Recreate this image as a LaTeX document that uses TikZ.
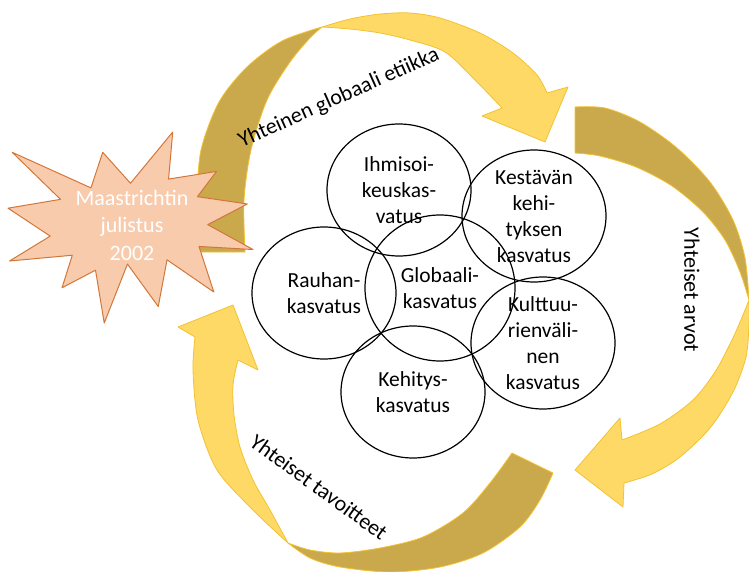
\documentclass[tikz,border=0pt]{standalone}
\usepackage{fontspec}
\setmainfont{Carlito}
\usepackage{tikz}
\usetikzlibrary{shapes.geometric}
\definecolor{bandlight}{HTML}{FFD966}
\definecolor{banddark}{HTML}{CAA84C}
\definecolor{bandline}{HTML}{F2C230}
\definecolor{burstfill}{HTML}{F8CBAD}
\definecolor{burstline}{HTML}{D2773A}
\tikzstyle{bubble} = [ellipse, draw=black, line width=1.2pt, minimum width=144pt, minimum height=132pt, inner sep=0pt]
\tikzstyle{bubbletext} = [align=center, font=\fontsize{21.5}{26}\selectfont]
\tikzstyle{bandfront} = [fill=bandlight, draw=bandline, line width=0.8pt, line join=round]
\tikzstyle{bandback} = [fill=banddark, draw=bandline, line width=0.8pt, line join=round]
\tikzstyle{burst} = [fill=burstfill, draw=burstline, line width=1pt, line join=round]
\tikzstyle{burstlabel} = [align=center, text=white, font=\fontsize{22}{27.5}\selectfont]
\tikzstyle{arclabel} = [font=\fontsize{22}{27}\selectfont]

\begin{document}
\begin{tikzpicture}[x=1pt, y=-1pt]
    \useasboundingbox (0,0) rectangle (749,572);

    \filldraw[bandback] plot[smooth] coordinates {(196,252) (197,200) (201,150) (219,102) (247,67) (282,41) (322,27)}
        -- plot[smooth] coordinates {(322,27) (310,38) (290,62) (267,100) (251,150) (244,200) (245,252)} -- cycle;
    \filldraw[bandfront] plot[smooth] coordinates {(322,27) (350,19) (380,14) (410,13) (440,18) (480,33) (513,53) (537,75) (547,93)}
        -- (568,87) -- (545,142) -- (482,116) -- (502,108)
        -- plot[smooth] coordinates {(502,108) (475,80) (445,52) (410,40) (380,33) (350,29) (322,27)} -- cycle;

    \filldraw[bandback] plot[smooth] coordinates {(575,107) (605,108) (640,122) (677,148) (710,182) (733,220) (745,258) (749,300)}
        -- plot[smooth] coordinates {(749,300) (740,272) (725,240) (703,212) (672,186) (636,167) (600,156) (575,153)} -- cycle;
    \filldraw[bandfront] plot[smooth] coordinates {(749,300) (749,323) (746,357) (733,392) (710,428) (680,457) (652,474) (624,483)}
        -- (623,507) -- (575,470) -- (620,418) -- (622,440)
        -- plot[smooth] coordinates {(622,440) (660,424) (693,400) (715,372) (732,340) (743,315) (749,300)} -- cycle;

    \filldraw[bandback] plot[smooth] coordinates {(553,473) (540,500) (520,527) (483,553) (440,567) (390,572) (340,567) (310,558) (288,543)}
        -- plot[smooth] coordinates {(288,543) (310,550) (340,553) (380,548) (423,537) (463,513) (490,483) (512,453)} -- cycle;
    \filldraw[bandfront] plot[smooth] coordinates {(288,543) (253,510) (217,470) (198,420) (193,370) (195,337)}
        -- (178,327) -- (233,305) -- (258,370) -- (238,360)
        -- plot[smooth] coordinates {(238,360) (233,385) (234,415) (240,447) (253,480) (270,510) (288,543)} -- cycle;

    \filldraw[burst, shift={(8,132)}, xscale=1.1343, yscale=0.8843]
        (108,58) -- (145.22,0) -- (141.55,53.25) -- (183.80,44.57) -- (167.02,73.15) -- (210.97,81.37)
        -- (176.07,104.75) -- (216,132.90) -- (168.37,129.42) -- (181.45,180.95) -- (140.20,144.57)
        -- (132.47,197.37) -- (105.32,149.35) -- (84.85,216) -- (77.15,156.27) -- (47.62,176.17)
        -- (56.67,139.37) -- (1.35,145.87) -- (37.22,117.75) -- (0,86.15) -- (46.27,76.17)
        -- (3.70,22.95) -- (73.12,63.20) -- (83.52,22.95) -- cycle;
    \node[burstlabel] (declaration) at (132,225) {Maastrichtin\\julistus\\2002};

    \node[bubble] (ihmisoikeus) at (399,190) {};
    \node[bubble] (kestava) at (534,216) {};
    \node[bubble, minimum width=150pt, minimum height=146pt] (globaali) at (440,288) {};
    \node[bubble] (rauha) at (324,293) {};
    \node[bubble] (kulttuuri) at (543,343) {};
    \node[bubble] (kehitys) at (413,392) {};

    \node[bubbletext] (ihmisoikeustxt) at (ihmisoikeus) {Ihmisoi-\\keuskas-\\vatus};
    \node[bubbletext] (kestavatxt) at (kestava) {Kestävän\\kehi-\\tyksen\\kasvatus};
    \node[bubbletext] (globaalitxt) at (globaali) {Globaali-\\kasvatus};
    \node[bubbletext] (rauhatxt) at (rauha) {Rauhan-\\kasvatus};
    \node[bubbletext] (kulttuuritxt) at (kulttuuri) {Kulttuu-\\rienväli-\\nen\\kasvatus};
    \node[bubbletext] (kehitystxt) at (kehitys) {Kehitys-\\kasvatus};

    \node[arclabel, rotate=24] (etiikka) at (339,98) {Yhteinen globaali etiikka};
    \node[arclabel, rotate=-90] (arvot) at (692,290) {Yhteiset arvot};
    \node[arclabel, rotate=-36] (tavoitteet) at (319,487) {Yhteiset tavoitteet};
\end{tikzpicture}
\end{document}
